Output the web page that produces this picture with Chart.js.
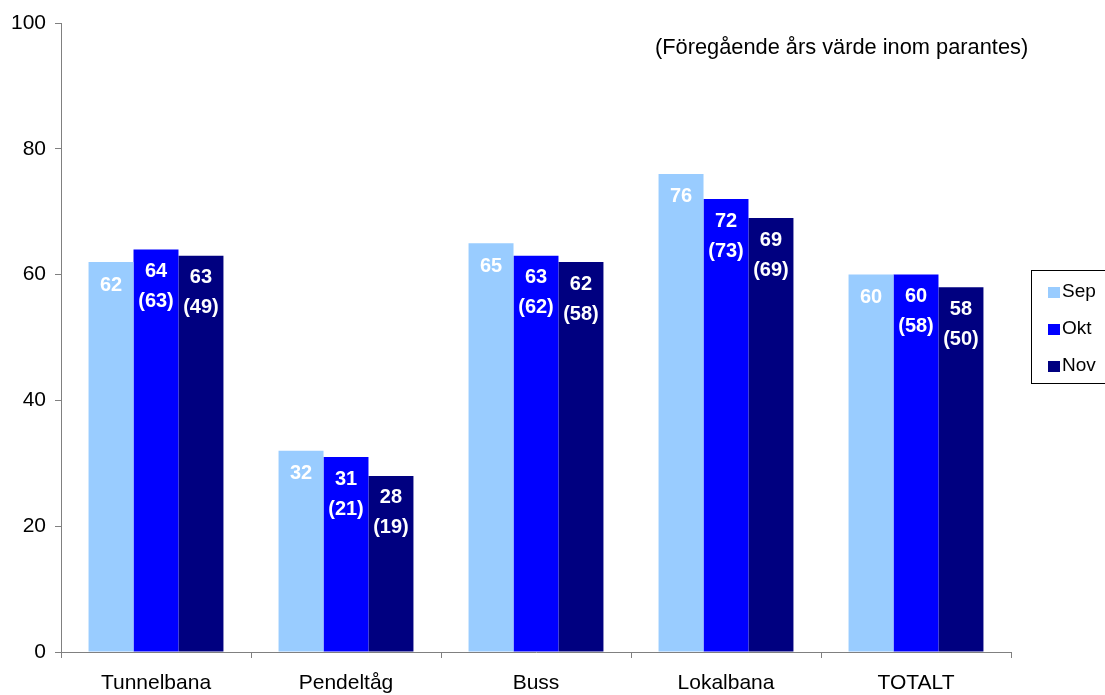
<!DOCTYPE html>
<html>
<head>
<meta charset="utf-8">
<script src="https://cdn.jsdelivr.net/npm/chart.js@4"></script>
<style>
html,body{margin:0;padding:0;background:#fff;}
#wrap{width:1105px;height:695px;position:relative;}
</style>
</head>
<body>
<div id="wrap"><canvas id="c" width="1105" height="695"></canvas></div>
<script>
const categories = ["Tunnelbana", "Pendeltåg", "Buss", "Lokalbana", "TOTALT"];
const seriesNames = ["Sep", "Okt", "Nov"];
const sepValues = [62, 32, 65, 76, 60];
const oktValues = [64, 31, 63, 72, 60];
const novValues = [63, 28, 62, 69, 58];
const oktPrevYear = [63, 21, 62, 73, 58];
const novPrevYear = [49, 19, 58, 69, 50];
const yTicks = [0, 20, 40, 60, 80, 100];
const noteText = "(Föregående års värde inom parantes)";

const colors = ["#99CCFF", "#0000FF", "#000080"];
const FONT = "'Liberation Sans', Arial, Helvetica, sans-serif";

const labelPlugin = {
  id: 'labels',
  afterDatasetsDraw(chart) {
    const ctx = chart.ctx;
    ctx.save();
    ctx.font = "bold 20px " + FONT;
    ctx.fillStyle = "#ffffff";
    ctx.textAlign = "center";
    ctx.textBaseline = "middle";
    chart.data.datasets.forEach((ds, di) => {
      const meta = chart.getDatasetMeta(di);
      meta.data.forEach((el, i) => {
        const prev = ds.prev ? ds.prev[i] : null;
        const y0 = el.y + (prev == null ? 23 : 22);
        ctx.fillText(String(ds.data[i]), el.x, y0);
        if (prev != null) ctx.fillText("(" + prev + ")", el.x, y0 + 30);
      });
    });
    ctx.restore();
  },
  afterDraw(chart) {
    const ctx = chart.ctx;
    ctx.save();
    ctx.font = "21.8px " + FONT;
    ctx.fillStyle = "#000";
    ctx.textAlign = "left";
    ctx.textBaseline = "middle";
    ctx.fillText(noteText, 655, 48);
    ctx.strokeStyle = "#000";
    ctx.lineWidth = 1;
    ctx.strokeRect(1031.5, 270.5, 90, 113);
    ctx.font = "19px " + FONT;
    const ys = [292, 329, 366];
    chart.data.datasets.forEach((ds, di) => {
      ctx.fillStyle = ds.backgroundColor;
      ctx.fillRect(1048, ys[di] - 5, 12, 11);
      ctx.fillStyle = "#000";
      ctx.fillText(ds.label, 1062, ys[di]);
    });
    ctx.restore();
  }
};

new Chart(document.getElementById('c'), {
  type: 'bar',
  data: {
    labels: categories,
    datasets: [
      { label: seriesNames[0], data: sepValues, backgroundColor: colors[0], prev: null },
      { label: seriesNames[1], data: oktValues, backgroundColor: colors[1], prev: oktPrevYear },
      { label: seriesNames[2], data: novValues, backgroundColor: colors[2], prev: novPrevYear }
    ]
  },
  options: {
    responsive: false,
    animation: false,
    devicePixelRatio: 1,
    layout: { padding: { top: 23, right: 94, bottom: 0, left: 0 } },
    plugins: { legend: { display: false }, tooltip: { enabled: false } },
    datasets: { bar: { categoryPercentage: 0.71, barPercentage: 1.0 } },
    scales: {
      x: {
        grid: { display: true, offset: true, drawOnChartArea: false, drawTicks: true, tickLength: 6, color: "#808080" },
        border: { color: "#808080", width: 1 },
        ticks: { color: "#000", font: { family: FONT, size: 21 }, padding: 13, maxRotation: 0 },
        afterFit(s) { s.height = 43; }
      },
      y: {
        min: 0, max: 100,
        afterBuildTicks(s) { s.ticks = yTicks.map(v => ({ value: v })); },
        grid: { display: true, drawOnChartArea: false, drawTicks: true, tickLength: 6, color: "#808080" },
        border: { color: "#808080", width: 1 },
        ticks: { color: "#000", font: { family: FONT, size: 21 }, padding: 9 },
        afterFit(s) { s.width = 61; }
      }
    }
  },
  plugins: [labelPlugin]
});
</script>
</body>
</html>
